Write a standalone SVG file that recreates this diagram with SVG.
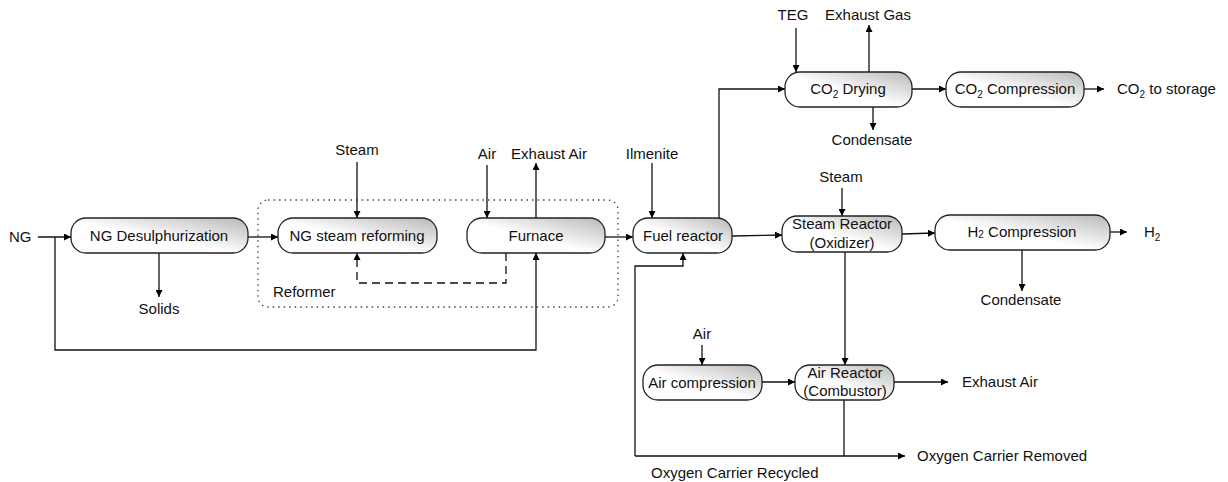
<svg xmlns="http://www.w3.org/2000/svg" width="1228" height="482" viewBox="0 0 1228 482">
<defs>
<linearGradient id="g" x1="0" y1="1" x2="1" y2="0">
<stop offset="0" stop-color="#ffffff"/>
<stop offset="0.45" stop-color="#ffffff"/>
<stop offset="1" stop-color="#b8b8b8"/>
</linearGradient>
<marker id="a" viewBox="0 0 10 10" refX="10" refY="5" markerWidth="7" markerHeight="7" markerUnits="userSpaceOnUse" orient="auto">
<path d="M0,0 L10,5 L0,10 z" fill="#000"/>
</marker>
</defs>
<style>
.box{fill:url(#g);stroke:#222;stroke-width:1.3}
.t{font-family:"Liberation Sans",Arial,sans-serif;font-size:15px;fill:#111}
.m{text-anchor:middle}
.c{fill:none;stroke:#111;stroke-width:1.3}
.ar{marker-end:url(#a)}
.sub{font-size:10px}
</style>
<rect width="1228" height="482" fill="#fff"/>
<g id="reformer">
<rect x="258" y="200" width="360" height="107" rx="10" fill="none" stroke="#444" stroke-width="1.3" stroke-dasharray="1.5 4"/>
<text class="t" x="273" y="297">Reformer</text>
</g>
<g id="connectors">
<line class="c ar" x1="38" y1="237" x2="71" y2="237"/>
<polyline class="c ar" points="55,237 55,350 536,350 536,253"/>
<line class="c ar" x1="159" y1="253" x2="159" y2="297"/>
<line class="c ar" x1="248" y1="237" x2="278" y2="237"/>
<line class="c ar" x1="357" y1="162" x2="357" y2="218"/>
<line class="c ar" x1="487" y1="165" x2="487" y2="218"/>
<line class="c ar" x1="536" y1="218" x2="536" y2="163"/>
<polyline class="c ar" points="506,253 506,283 357,283 357,253" stroke-dasharray="8 5"/>
<line class="c ar" x1="605" y1="237" x2="633" y2="237"/>
<line class="c ar" x1="652" y1="163" x2="652" y2="218"/>
<polyline class="c ar" points="719,218 719,89 785,89"/>
<line class="c ar" x1="796" y1="28" x2="796" y2="72"/>
<line class="c ar" x1="869" y1="72" x2="869" y2="25"/>
<line class="c ar" x1="873" y1="107" x2="873" y2="130"/>
<line class="c ar" x1="912" y1="89" x2="946" y2="89"/>
<line class="c ar" x1="1084" y1="89" x2="1104" y2="89"/>
<line class="c ar" x1="732" y1="236" x2="782" y2="235"/>
<line class="c ar" x1="842" y1="188" x2="842" y2="216"/>
<line class="c ar" x1="902" y1="234" x2="935" y2="233"/>
<line class="c ar" x1="1110" y1="232" x2="1127" y2="232"/>
<line class="c ar" x1="1022" y1="250" x2="1022" y2="291"/>
<line class="c ar" x1="845" y1="252" x2="845" y2="365"/>
<line class="c ar" x1="702" y1="345" x2="702" y2="365"/>
<line class="c ar" x1="762" y1="382" x2="795" y2="382"/>
<line class="c ar" x1="894" y1="382" x2="948" y2="382"/>
<line class="c" x1="844" y1="400" x2="844" y2="456"/>
<line class="c ar" x1="635" y1="456" x2="905" y2="456"/>
<polyline class="c ar" points="635,456 635,266 683,266 683,253"/>
</g>
<g id="labels">
<text class="t" x="9" y="242">NG</text>
<text class="t m" x="159" y="314">Solids</text>
<text class="t m" x="357" y="155">Steam</text>
<text class="t m" x="487" y="159">Air</text>
<text class="t m" x="549" y="159">Exhaust Air</text>
<text class="t m" x="652" y="159">Ilmenite</text>
<text class="t m" x="793" y="20">TEG</text>
<text class="t m" x="868" y="20">Exhaust Gas</text>
<text class="t m" x="872" y="145">Condensate</text>
<text class="t" x="1117" y="94">CO<tspan class="sub" dy="4">2</tspan><tspan dy="-4"> to storage</tspan></text>
<text class="t m" x="841" y="182">Steam</text>
<text class="t" x="1144" y="237">H<tspan class="sub" dy="4">2</tspan></text>
<text class="t m" x="1021" y="305">Condensate</text>
<text class="t m" x="702" y="339">Air</text>
<text class="t" x="962" y="387">Exhaust Air</text>
<text class="t" x="917" y="461">Oxygen Carrier Removed</text>
<text class="t" x="651" y="478">Oxygen Carrier Recycled</text>
</g>
<g id="desulph">
<rect class="box" x="71" y="218" width="177" height="35" rx="15"/>
<text class="t m" x="159" y="241">NG Desulphurization</text>
</g>
<g id="reforming">
<rect class="box" x="278" y="218" width="159" height="35" rx="15"/>
<text class="t m" x="357" y="241">NG steam reforming</text>
</g>
<g id="furnace">
<rect class="box" x="467" y="218" width="138" height="35" rx="15"/>
<text class="t m" x="536" y="241">Furnace</text>
</g>
<g id="fuel-reactor">
<rect class="box" x="633" y="218" width="99" height="35" rx="15"/>
<text class="t m" x="683" y="241">Fuel reactor</text>
</g>
<g id="co2-drying">
<rect class="box" x="785" y="72" width="127" height="35" rx="15"/>
<text class="t m" x="848" y="94">CO<tspan class="sub" dy="4">2</tspan><tspan dy="-4"> Drying</tspan></text>
</g>
<g id="co2-compression">
<rect class="box" x="946" y="72" width="138" height="35" rx="15"/>
<text class="t m" x="1015" y="94">CO<tspan class="sub" dy="4">2</tspan><tspan dy="-4"> Compression</tspan></text>
</g>
<g id="steam-reactor">
<rect class="box" x="782" y="216" width="120" height="36" rx="15"/>
<text class="t m" x="842" y="229">Steam Reactor</text>
<text class="t m" x="842" y="248">(Oxidizer)</text>
</g>
<g id="h2-compression">
<rect class="box" x="935" y="215" width="175" height="35" rx="15"/>
<text class="t m" x="1022" y="237">H<tspan class="sub" dy="1">2</tspan><tspan dy="-1"> Compression</tspan></text>
</g>
<g id="air-compression">
<rect class="box" x="643" y="365" width="119" height="35" rx="15"/>
<text class="t m" x="702" y="388">Air compression</text>
</g>
<g id="air-reactor">
<rect class="box" x="795" y="365" width="99" height="35" rx="15"/>
<text class="t m" x="845" y="378">Air Reactor</text>
<text class="t m" x="845" y="396">(Combustor)</text>
</g>
</svg>
